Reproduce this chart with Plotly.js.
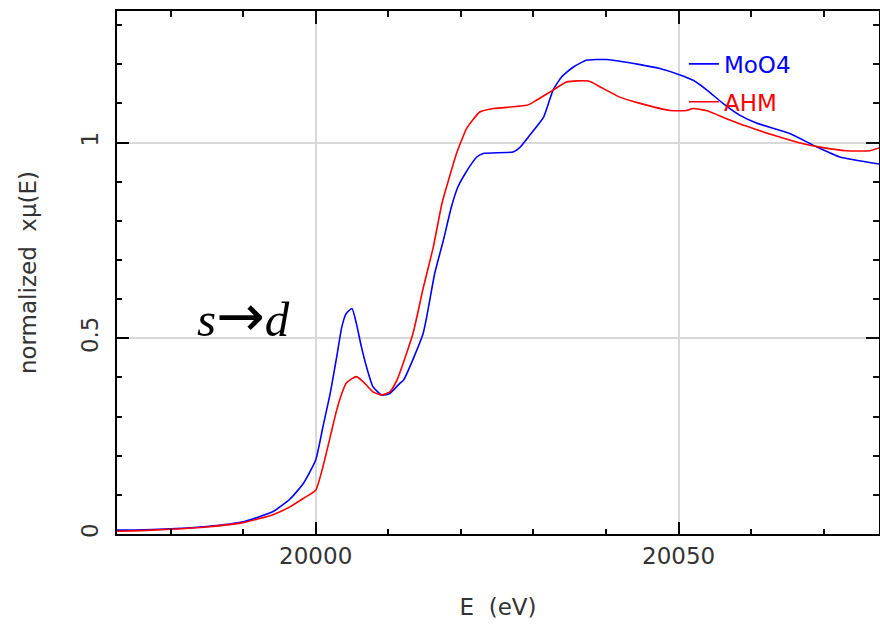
<!DOCTYPE html>
<html>
<head>
<meta charset="utf-8">
<script src="https://cdn.plot.ly/plotly-3.0.1.min.js"></script>
<style>html,body{margin:0;padding:0;background:#fff;}#chart{width:880px;height:625px;}</style>
</head>
<body>
<div id="chart"></div>
<script>
// MoO4 (blue) normalized absorption
const eMoO4 = [19972.6,19975,19980,19985,19990,19994.2,19996.5,19998.3,20000,20001,20002,20002.9,20003.6,20004.2,20005,20005.6,20006.3,20007,20007.9,20009.1,20010.2,20011.6,20012.1,20014.8,20016.4,20017.6,20018.7,20019.6,20020.6,20022.2,20023.1,20027.2,20028.1,20029.5,20031.4,20032.7,20033.9,20035.5,20037.3,20040.1,20044.7,20047.4,20050,20052,20053.9,20056.1,20058.4,20060.7,20065.3,20069,20072.2,20077.6];
const muMoO4 = [0.010,0.010,0.013,0.019,0.031,0.058,0.090,0.129,0.189,0.274,0.359,0.453,0.529,0.563,0.576,0.538,0.478,0.427,0.376,0.355,0.359,0.385,0.393,0.512,0.666,0.751,0.836,0.887,0.921,0.963,0.972,0.976,0.987,1.019,1.065,1.134,1.168,1.193,1.210,1.212,1.199,1.189,1.174,1.159,1.134,1.100,1.070,1.050,1.023,0.989,0.963,0.945];
// AHM (red) normalized absorption
const eAHM = [19972.6,19975,19980,19985,19990,19994.2,19996.5,19998.3,20000,20001,20002,20002.9,20003.6,20004.2,20005,20005.6,20006.3,20007,20007.9,20009.1,20010.2,20011.2,20013.4,20014.8,20016.2,20017.4,20018.3,20019.4,20020.1,20020.8,20022.6,20024.5,20029.1,20030.4,20032.7,20034.6,20037.6,20039.2,20041.9,20044.7,20048.8,20051.1,20052,20053.9,20056.6,20059.3,20063,20066.7,20069.9,20073.1,20076.3,20077.6];
const muAHM = [0.007,0.008,0.012,0.018,0.029,0.050,0.070,0.091,0.112,0.172,0.248,0.317,0.359,0.385,0.397,0.402,0.393,0.380,0.363,0.355,0.363,0.393,0.512,0.627,0.733,0.845,0.904,0.972,1.006,1.036,1.078,1.087,1.095,1.108,1.134,1.155,1.157,1.142,1.116,1.100,1.082,1.082,1.087,1.081,1.061,1.042,1.019,0.999,0.987,0.979,0.979,0.986];

const seriesNames = ['MoO4','AHM'];
const xTitle = 'E  (eV)';
const yTitle = 'normalized  xμ(E)';
const noteText = '<i>s</i><span style="font-family:DejaVu Sans;font-size:58px">→</span><i>d</i>';

const xRange = [19972.63,20077.6];
const yRange = [0,1.336];
const tickFont = {family:'DejaVu Sans', size:23, color:'#333'};

const traces = [
  {x:eMoO4, y:muMoO4, type:'scatter', mode:'lines', line:{color:'#0000ff', width:1.6, shape:'spline', smoothing:0.5},
   name:'<span style="color:#0000ff">'+seriesNames[0]+'</span>', legendgroup:'a'},
  // AHM is drawn on identical overlaid axes, which carry the top/right ticks
  {x:eAHM, y:muAHM, xaxis:'x2', yaxis:'y2', type:'scatter', mode:'lines', line:{color:'#ff0000', width:1.6, shape:'spline', smoothing:0.5},
   name:'<span style="color:#ff0000">'+seriesNames[1]+'</span>', legendgroup:'b'}
];

const layout = {
  width:880, height:625,
  margin:{l:117, r:1, t:11, b:91},
  showlegend:true,
  legend:{x:0.744, y:0.94, xanchor:'left', yanchor:'top', bgcolor:'rgba(0,0,0,0)',
          font:{family:'DejaVu Sans', size:23}, traceorder:'grouped', tracegroupgap:5,
          itemwidth:30},
  xaxis:{range:xRange, tick0:20000, dtick:50, ticks:'inside', ticklen:12, tickwidth:2, tickcolor:'#000',
         showline:true, linecolor:'#000', linewidth:2, mirror:'allticks',
         showgrid:true, gridcolor:'#d9d9d9', gridwidth:2, zeroline:false,
         tickfont:tickFont, tickformat:'d',
         minor:{dtick:10, ticks:'inside', ticklen:5, tickwidth:2, tickcolor:'#000', showgrid:false},
         title:{text:xTitle, font:{family:'DejaVu Sans', size:23, color:'#333'}, standoff:31}},
  yaxis:{range:yRange, dtick:0.5, ticks:'inside', ticklen:12, tickwidth:2, tickcolor:'#000',
         showline:true, linecolor:'#000', linewidth:2, mirror:'allticks',
         showgrid:true, gridcolor:'#d9d9d9', gridwidth:2, zeroline:false,
         tickfont:tickFont, tickangle:-90, ticklabelstandoff:8,
         minor:{dtick:0.1, ticks:'inside', ticklen:5, tickwidth:2, tickcolor:'#000', showgrid:false},
         title:{text:yTitle, font:{family:'DejaVu Sans', size:23, color:'#333'}, standoff:34}},
  xaxis2:{range:xRange, overlaying:'x', side:'top', dtick:50, tick0:20000, ticks:'inside', ticklen:13, tickwidth:2, tickcolor:'#111',
          showticklabels:false, showgrid:false,
          minor:{dtick:10, ticks:'inside', ticklen:6, tickwidth:2, tickcolor:'#111'}},
  yaxis2:{range:yRange, overlaying:'y', side:'right', dtick:0.5, ticks:'inside', ticklen:13, tickwidth:2, tickcolor:'#111',
          showticklabels:false, showgrid:false,
          minor:{dtick:0.1, ticks:'inside', ticklen:6, tickwidth:2, tickcolor:'#111'}},
  annotations:[
    {x:19990.0, y:0.557, xref:'x', yref:'y', text:noteText, showarrow:false,
     font:{family:'Liberation Serif', size:49, color:'#000'}, xanchor:'center', yanchor:'middle'}
  ]
};

Plotly.newPlot('chart', traces, layout, {staticPlot:true, displayModeBar:false});
</script>
</body>
</html>
